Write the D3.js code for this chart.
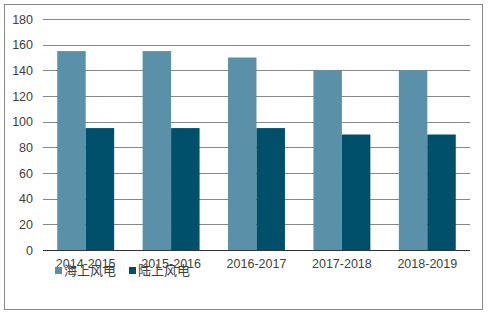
<!DOCTYPE html>
<html>
<head>
<meta charset="utf-8">
<script src="https://cdn.jsdelivr.net/npm/d3@7"></script>
<style>
  body { margin: 0; background: #fff; }
  text { font-family: "Liberation Sans", Arial, sans-serif; fill: #404040; }
</style>
</head>
<body>
<svg width="491" height="313"></svg>
<script>
var categories = ["2014-2015", "2015-2016", "2016-2017", "2017-2018", "2018-2019"];
var seriesNames = ["海上风电", "陆上风电"];
var offshore = [155, 155, 150, 140, 140];
var onshore = [95, 95, 95, 90, 90];
var yTicks = [0, 20, 40, 60, 80, 100, 120, 140, 160, 180];
var colors = ["#5b91a8", "#00506b"];

var svg = d3.select("svg");

// outer frame
svg.append("rect")
    .attr("x", 4.5).attr("y", 4.5)
    .attr("width", 478).attr("height", 305)
    .attr("fill", "none")
    .attr("stroke", "#888").attr("stroke-width", 1);

var plotLeft = 43, plotRight = 470, plotTop = 19, plotBottom = 250;

var x = d3.scaleBand().domain(categories).range([plotLeft, plotRight]);
var xInner = d3.scaleBand().domain(seriesNames)
    .range([0, x.bandwidth()]).paddingOuter(0.5);
var y = d3.scaleLinear().domain([0, 180]).range([plotBottom, plotTop]);

// gridlines
svg.append("g").selectAll("line").data(yTicks.filter(function(d) { return d > 0; }))
    .enter().append("line")
    .attr("x1", plotLeft).attr("x2", plotRight)
    .attr("y1", function(d) { return Math.round(y(d)) + 0.5; })
    .attr("y2", function(d) { return Math.round(y(d)) + 0.5; })
    .attr("stroke", "#878787");

// y labels
svg.append("g").selectAll("text").data(yTicks)
    .enter().append("text")
    .attr("x", 33)
    .attr("y", function(d) { return y(d) + 4.5; })
    .attr("text-anchor", "end")
    .style("font-size", "12.5px")
    .text(function(d) { return d; });

// bars
var rows = categories.map(function(c, i) {
    return { cat: c, vals: [offshore[i], onshore[i]] };
});
var groups = svg.append("g").selectAll("g").data(rows)
    .enter().append("g")
    .attr("transform", function(d) { return "translate(" + x(d.cat) + ",0)"; });

groups.selectAll("rect")
    .data(function(d) { return d.vals.map(function(v, j) { return { name: seriesNames[j], v: v, j: j }; }); })
    .enter().append("rect")
    .attr("x", function(d) { return xInner(d.name); })
    .attr("width", xInner.bandwidth())
    .attr("y", function(d) { return y(d.v); })
    .attr("height", function(d) { return plotBottom - y(d.v); })
    .attr("fill", function(d) { return colors[d.j]; });

// baseline
svg.append("line")
    .attr("x1", plotLeft).attr("x2", plotRight)
    .attr("y1", plotBottom + 0.5).attr("y2", plotBottom + 0.5)
    .attr("stroke", "#333");

// x labels
svg.append("g").selectAll("text").data(categories)
    .enter().append("text")
    .attr("x", function(d) { return x(d) + x.bandwidth() / 2; })
    .attr("y", 268)
    .attr("text-anchor", "middle")
    .style("font-size", "12.5px")
    .text(function(d) { return d; });

// legend
var legend = svg.append("g").attr("transform", "translate(55,270)");
var item = legend.selectAll("g").data(seriesNames)
    .enter().append("g")
    .attr("transform", function(d, i) { return "translate(" + (i * 74) + ",0)"; });
item.append("rect")
    .attr("x", 0).attr("y", -3)
    .attr("width", 7).attr("height", 7)
    .attr("fill", function(d, i) { return colors[i]; });
item.append("text")
    .attr("x", 9).attr("y", 5)
    .style("font-size", "13px")
    .style("font-family", "'Noto Sans CJK SC', sans-serif")
    .text(function(d) { return d; });
</script>
</body>
</html>
